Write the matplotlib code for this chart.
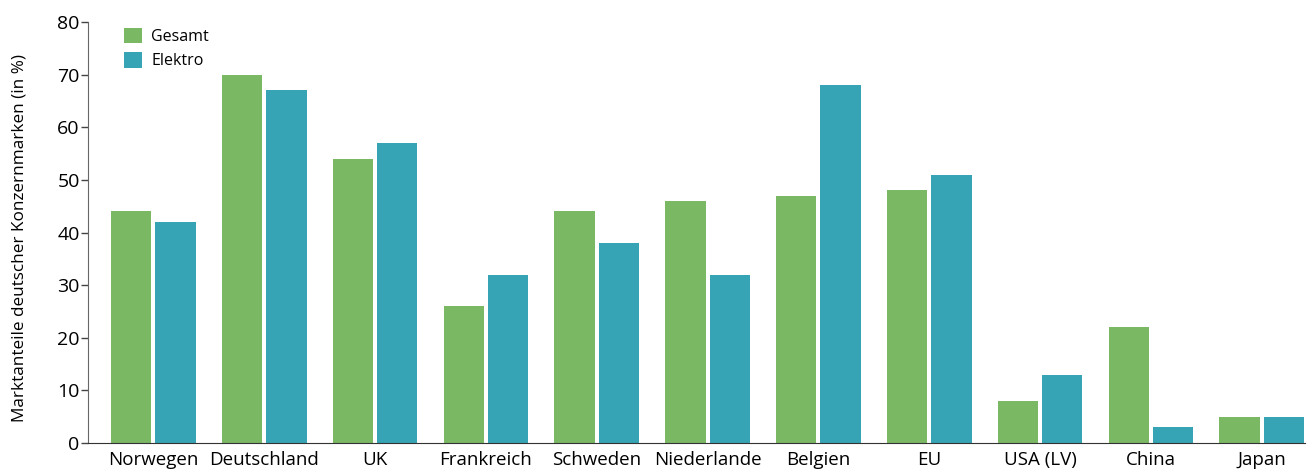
import numpy as np
import matplotlib.pyplot as plt

plt.rcParams['font.family'] = ['Open Sans', 'DejaVu Sans']

laender = ['Norwegen', 'Deutschland', 'UK', 'Frankreich', 'Schweden', 'Niederlande',
           'Belgien', 'EU', 'USA (LV)', 'China', 'Japan']
gesamt = [44, 70, 54, 26, 44, 46, 47, 48, 8, 22, 5]
elektro = [42, 67, 57, 32, 38, 32, 68, 51, 13, 3, 5]

fig = plt.figure(figsize=(13.14, 4.73), dpi=100)
ax = fig.add_axes([88/1314, 1-443/473, (1305-88)/1314, (443-22)/473])

x = np.arange(len(laender))
b = 0.365
ax.bar(x - 0.2, gesamt, b, color='#7bb864', label='Gesamt')
ax.bar(x + 0.2, elektro, b, color='#36a4b4', label='Elektro')

ax.set_xlim(-0.59, 10.39)
ax.set_ylim(0, 80)
ax.set_yticks(range(0, 81, 10))
ax.set_xticks(x)
ax.set_xticklabels(laender, fontsize=13.5)
ax.tick_params(axis='x', length=0, pad=6)
ax.tick_params(axis='y', length=5, width=1, color='#444444', labelsize=14, pad=1)
for s in ['top', 'right']:
    ax.spines[s].set_visible(False)
ax.spines['left'].set_color('#666666')
ax.spines['bottom'].set_color('#333333')
ax.set_ylabel('Marktanteile deutscher Konzernmarken (in %)', fontsize=12.3)
ax.yaxis.set_label_coords(-0.05, 0.487)

ax.legend(loc='upper left', bbox_to_anchor=(0.018, 1.02), frameon=False, fontsize=11.5,
          handlelength=1.1, handleheight=1.1, handletextpad=0.6, labelspacing=0.45)

plt.savefig('out.png', dpi=100)
